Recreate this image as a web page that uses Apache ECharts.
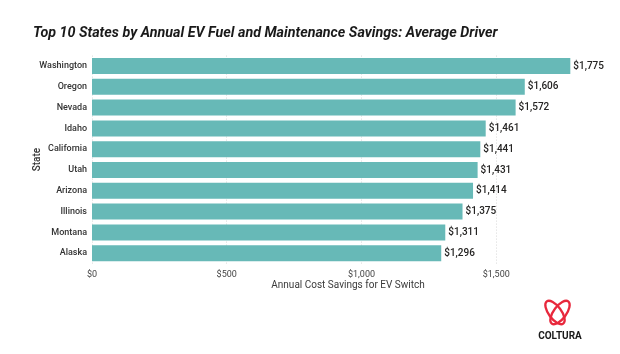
<!DOCTYPE html>
<html>
<head>
<meta charset="utf-8">
<script src="https://cdn.jsdelivr.net/npm/echarts@6/dist/echarts.min.js"></script>
<style>html,body{margin:0;padding:0;background:#fff;}#c{width:620px;height:354px;}</style>
</head>
<body>
<div id="c"></div>
<script>
const states = ['Washington','Oregon','Nevada','Idaho','California','Utah','Arizona','Illinois','Montana','Alaska'];
const savings = [1775,1606,1572,1461,1441,1431,1414,1375,1311,1296];
const xTicks = [0,500,1000,1500];

const FONT = 'Roboto';
const chart = echarts.init(document.getElementById('c'), null, {renderer:'canvas'});
const fmt = v => '$' + v.toLocaleString('en-US');
chart.setOption({
  animation:false,
  backgroundColor:'#ffffff',
  title:{
    text:'Top 10 States by Annual EV Fuel and Maintenance Savings: Average Driver',
    left:28, top:21,
    textStyle:{fontFamily:FONT,fontSize:14.3,fontWeight:'bold',fontStyle:'italic',color:'#1a1a1a'}
  },
  grid:{left:92,right:16,top:55.6,height:208},
  xAxis:{
    type:'value', min:0, max:1900, interval:500,
    name:'Annual Cost Savings for EV Switch', nameLocation:'middle', nameGap:17, nameMoveOverlap:false,
    nameTextStyle:{fontFamily:FONT,fontSize:10,color:'#3a3a3a'},
    axisLine:{show:false}, axisTick:{show:false},
    axisLabel:{fontFamily:FONT,fontSize:9,color:'#444',margin:7,showMaxLabel:false,
      formatter:v => xTicks.includes(v) ? fmt(v) : ''},
    splitLine:{show:true,showMaxLine:false,lineStyle:{color:'#d8d8d8',type:[1,2],width:1}}
  },
  yAxis:{
    type:'category', data:states, inverse:true,
    name:'State', nameLocation:'middle', nameGap:50, nameRotate:90, nameMoveOverlap:false,
    nameTextStyle:{fontFamily:FONT,fontSize:10,fontWeight:500,color:'#333'},
    axisLine:{show:false}, axisTick:{show:false},
    axisLabel:{fontFamily:FONT,fontSize:9,fontWeight:500,color:'#333',margin:5}
  },
  series:[{
    type:'bar', data:savings, barCategoryGap:'23%',
    itemStyle:{color:'#67b9b7'},
    label:{show:true,position:'right',distance:3,formatter:p=>fmt(p.value),
      fontFamily:FONT,fontSize:10,fontWeight:500,color:'#252423'}
  }],
  graphic:[
    {type:'group',x:555,y:312.5,rotation:0.64,children:[
      {type:'ellipse',shape:{cx:0,cy:0,rx:6.3,ry:13.8},style:{fill:null,stroke:'#e8283c',lineWidth:2.3}}]},
    {type:'group',x:560,y:312.5,rotation:-0.64,children:[
      {type:'ellipse',shape:{cx:0,cy:0,rx:6.3,ry:13.8},style:{fill:null,stroke:'#e8283c',lineWidth:2.3}}]},
    {type:'text',x:560,y:336,style:{text:'COLTURA',fill:'#1a1a1a',font:'bold 10px Roboto',align:'center',verticalAlign:'middle'}}
  ]
});
</script>
</body>
</html>
